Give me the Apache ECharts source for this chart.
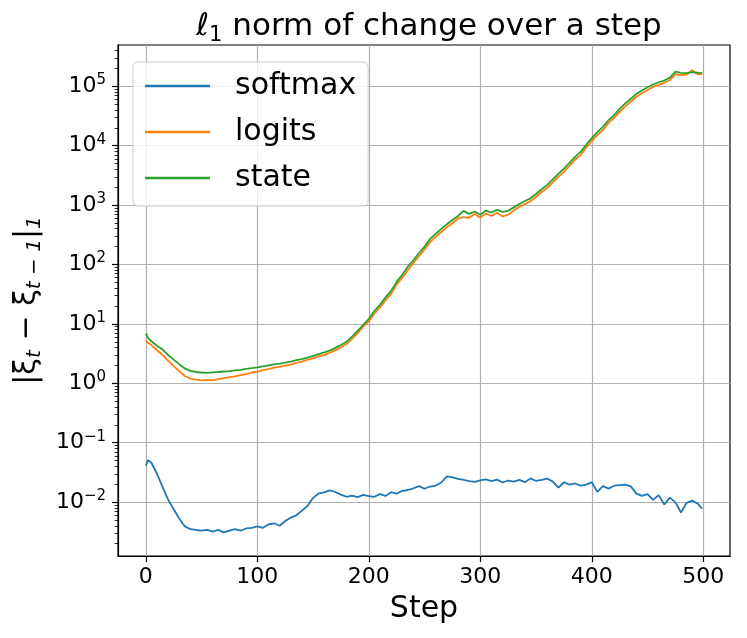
<!DOCTYPE html>
<html>
<head>
    <meta charset="utf-8">
    <title>l1 norm of change over a step</title>
    <script src="https://cdn.jsdelivr.net/npm/echarts@6/dist/echarts.min.js"></script>
</head>
<body style="margin:0;background:#fff;">
<div id="main" style="width: 747px;height:638px;"></div>
<script type="text/javascript">
    // values (steps 0..499)
    const steps = [0, 2, 5, 10, 15, 20, 25, 30, 35, 40, 45, 50, 55, 60, 65, 70, 75, 80, 85, 90, 95,
        100, 105, 110, 115, 120, 125, 130, 135, 140, 145, 150, 155, 160, 165, 170, 175, 180, 185, 190, 195,
        200, 205, 210, 215, 220, 225, 230, 235, 240, 245, 250, 255, 260, 265, 270, 275, 280, 285, 290, 295,
        300, 305, 310, 315, 320, 325, 330, 335, 340, 345, 350, 355, 360, 365, 370, 375, 380, 385, 390, 395,
        400, 405, 410, 415, 420, 425, 430, 435, 440, 445, 450, 455, 460, 465, 470, 475, 480, 485, 490, 495, 499];

    const softmax = [0.041, 0.051, 0.046, 0.030, 0.018, 0.011, 0.0076, 0.0053, 0.0039, 0.0035, 0.0034, 0.0033, 0.0034, 0.0032, 0.0034, 0.0031, 0.0033, 0.0035, 0.0033, 0.0036, 0.0037,
        0.0039, 0.0037, 0.0042, 0.0044, 0.0040, 0.0048, 0.0055, 0.0060, 0.0072, 0.0086, 0.0118, 0.0140, 0.0146, 0.0158, 0.0148, 0.0134, 0.0123, 0.0129, 0.0121, 0.0132,
        0.0126, 0.0123, 0.0136, 0.0127, 0.0147, 0.0139, 0.0155, 0.0160, 0.0171, 0.0186, 0.0168, 0.0183, 0.0190, 0.0214, 0.0272, 0.0262, 0.0246, 0.0236, 0.0226, 0.0220,
        0.0233, 0.0241, 0.0225, 0.0239, 0.0214, 0.0231, 0.0221, 0.0237, 0.0217, 0.0251, 0.0227, 0.0236, 0.0249, 0.0221, 0.0175, 0.0216, 0.0197, 0.0206, 0.0189, 0.0197,
        0.0216, 0.0149, 0.0186, 0.0169, 0.0189, 0.0193, 0.0197, 0.0184, 0.0139, 0.0127, 0.0136, 0.0109, 0.0131, 0.0091, 0.0119, 0.0099, 0.0067, 0.0097, 0.0106, 0.0094, 0.0078];

    const logits = [5.3, 4.8, 4.4, 3.6, 3.0, 2.4, 1.95, 1.6, 1.33, 1.2, 1.15, 1.12, 1.14, 1.12, 1.18, 1.22, 1.27, 1.31, 1.38, 1.43, 1.52,
        1.57, 1.66, 1.73, 1.83, 1.89, 1.99, 2.07, 2.21, 2.31, 2.49, 2.64, 2.83, 2.98, 3.27, 3.58, 4.0, 4.6, 5.6, 7.0, 9.0,
        11, 15, 19, 25, 32, 46, 60, 80, 106, 138, 180, 238, 292, 352, 425, 495, 595, 630, 610, 705,
        615, 725, 655, 745, 645, 690, 815, 935, 1040, 1160, 1370, 1660, 1940, 2420, 2980, 3660, 4580, 5820, 6950, 9350,
        11900, 15100, 18400, 24200, 29300, 37200, 45800, 55400, 66500, 76500, 86500, 97500, 105500, 114500, 127500, 160000, 154000, 158000, 186000, 159000, 162000];

    const state = [6.9, 5.8, 5.1, 4.3, 3.7, 3.0, 2.5, 2.1, 1.78, 1.62, 1.55, 1.52, 1.50, 1.53, 1.55, 1.58, 1.61, 1.65, 1.69, 1.75, 1.80,
        1.86, 1.93, 2.00, 2.08, 2.15, 2.23, 2.32, 2.46, 2.55, 2.71, 2.89, 3.10, 3.31, 3.55, 3.95, 4.4, 5.0, 6.1, 7.6, 9.6,
        12.2, 16.5, 21, 28, 36, 51, 67, 92, 118, 156, 200, 270, 328, 398, 475, 560, 655, 800, 710, 780,
        690, 810, 750, 830, 770, 800, 915, 1040, 1170, 1300, 1540, 1850, 2190, 2700, 3350, 4100, 5150, 6500, 7850, 10400,
        13400, 16900, 20800, 27000, 32800, 41500, 51500, 62000, 74500, 85000, 96500, 107000, 117000, 125000, 140000, 176000, 168000, 166000, 173000, 170000, 168000];

    const seriesNames = ['softmax', 'logits', 'state'];
    const xTicks = [0, 100, 200, 300, 400, 500];
    const yDecades = [-2, -1, 0, 1, 2, 3, 4, 5];

    // log10 axis: ticks at decades, minor ticks at 2..9
    const yMin = -2.907, yMax = 5.695;
    let yMinor = [];
    for (let d = -3; d <= 5; d++) {
        for (let k = 2; k <= 9; k++) {
            const v = d + Math.log10(k);
            if (v > yMin && v < yMax) yMinor.push(v);
        }
    }

    function toLog(vals) {
        return steps.map(function (s, i) { return [s, Math.log10(vals[i])]; });
    }

    const colors = ['#1f77b4', '#ff7f0e', '#2ca02c'];
    const font = 'DejaVu Sans';

    const myChart = echarts.init(document.getElementById('main'));
    const option = {
        animation: false,
        backgroundColor: '#fff',
        textStyle: {fontFamily: font},
        title: {
            text: '{i|ℓ}{s|1}{n| norm of change over a step}',
            left: 424,
            textAlign: 'center',
            top: 3,
            textStyle: {
                fontWeight: 'normal',
                rich: {
                    i: {fontFamily: font, fontSize: 31, fontStyle: 'italic', fontWeight: 'normal', color: '#000', lineHeight: 38, verticalAlign: 'middle'},
                    s: {fontFamily: font, fontSize: 21, fontWeight: 'normal', color: '#000', lineHeight: 38, verticalAlign: 'bottom'},
                    n: {fontFamily: font, fontSize: 31, fontWeight: 'normal', color: '#000', lineHeight: 38, verticalAlign: 'middle'}
                }
            }
        },
        legend: {
            data: seriesNames,
            left: 133,
            top: 62,
            orient: 'vertical',
            icon: 'rect',
            itemWidth: 65,
            itemHeight: 2.5,
            itemGap: 14,
            padding: [8, 12, 12, 12],
            selectedMode: false,
            backgroundColor: 'rgba(255,255,255,0.8)',
            borderColor: '#cccccc',
            borderWidth: 1,
            borderRadius: 5,
            textStyle: {fontFamily: font, fontSize: 30, color: '#000', padding: [0, 0, 0, 20], lineHeight: 32}
        },
        grid: {
            left: 118, right: 17, top: 45, bottom: 82,
            show: true, borderColor: '#000', borderWidth: 1.2
        },
        xAxis: {
            type: 'value',
            min: -24.95,
            max: 523.95,
            name: 'Step',
            nameLocation: 'middle',
            nameGap: 38,
            nameTextStyle: {fontFamily: font, fontSize: 30, color: '#000'},
            axisLine: {onZero: false, lineStyle: {color: '#000', width: 1.2}},
            axisTick: {customValues: xTicks, length: 6, lineStyle: {color: '#000', width: 1.2}},
            axisLabel: {customValues: xTicks, fontFamily: font, fontSize: 22, color: '#000', margin: 10},
            splitLine: {show: true, lineStyle: {color: '#b0b0b0', width: 1.2}}
        },
        yAxis: [{
            type: 'value',
            position: 'left',
            min: yMin,
            max: yMax,
            name: '{m||ξ}{s|t}{m| − ξ}{s|t − 1}{m||}{s|1}',
            nameLocation: 'middle',
            nameRotate: 90,
            nameGap: 72,
            nameTextStyle: {
                rich: {
                    m: {fontFamily: font, fontSize: 30, color: '#000', lineHeight: 36, verticalAlign: 'middle'},
                    s: {fontFamily: font, fontSize: 20, fontStyle: 'italic', color: '#000', lineHeight: 36, verticalAlign: 'bottom'}
                }
            },
            axisLine: {onZero: false, lineStyle: {color: '#000', width: 1.2}},
            axisTick: {customValues: yDecades, length: 6, lineStyle: {color: '#000', width: 1.2}},
            axisLabel: {
                customValues: yDecades,
                margin: 12,
                formatter: function (v) {
                    const e = Math.round(v);
                    return '{b|10}{p|' + (e < 0 ? '−' + (-e) : e) + '}';
                },
                rich: {
                    b: {fontFamily: font, fontSize: 22, color: '#000', lineHeight: 27, verticalAlign: 'middle'},
                    p: {fontFamily: font, fontSize: 15, color: '#000', lineHeight: 27, verticalAlign: 'top'}
                }
            },
            splitLine: {show: true, lineStyle: {color: '#b0b0b0', width: 1.2}}
        }, {
            type: 'value',
            position: 'left',
            min: yMin,
            max: yMax,
            axisLine: {show: false, onZero: false},
            axisTick: {show: true, customValues: yMinor, length: 3.5, lineStyle: {color: '#000', width: 0.8}},
            axisLabel: {show: false},
            splitLine: {show: false}
        }],
        series: [
            {name: 'softmax', type: 'line', data: toLog(softmax), showSymbol: false, color: colors[0], lineStyle: {width: 1.8}},
            {name: 'logits', type: 'line', data: toLog(logits), showSymbol: false, color: colors[1], lineStyle: {width: 1.8}},
            {name: 'state', type: 'line', data: toLog(state), showSymbol: false, color: colors[2], lineStyle: {width: 1.8}}
        ]
    };
    myChart.setOption(option);
</script>
</body>
</html>
